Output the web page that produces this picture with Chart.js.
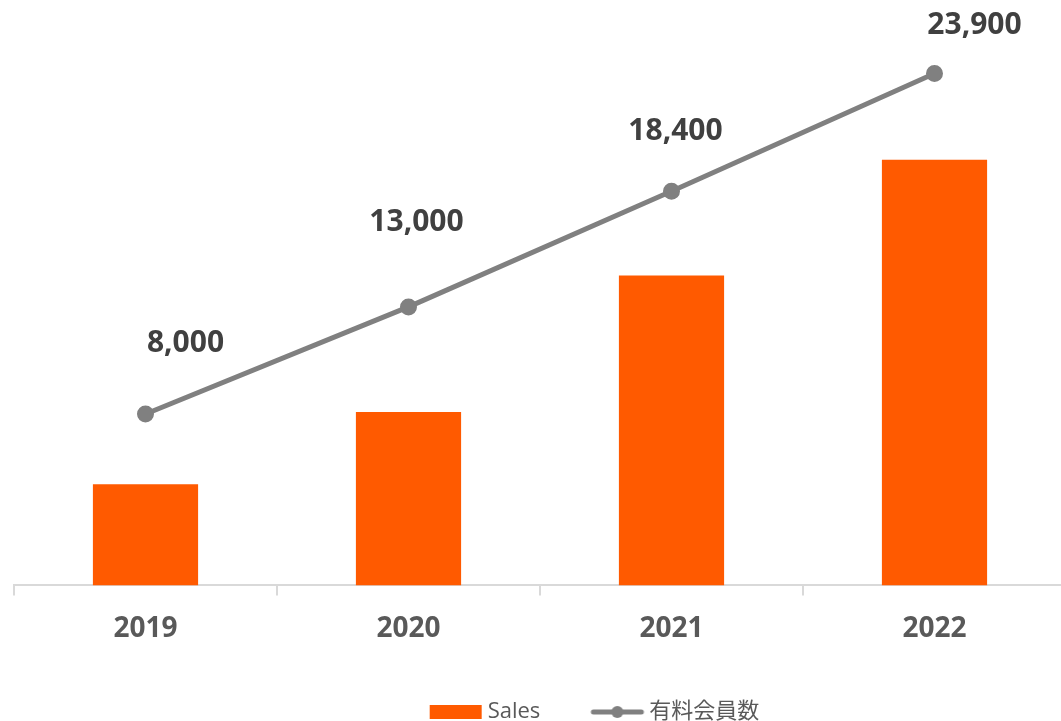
<!DOCTYPE html>
<html>
<head>
<meta charset="utf-8">
<script src="https://cdn.jsdelivr.net/npm/chart.js@4/dist/chart.umd.min.js"></script>
<style>
  html, body { margin: 0; padding: 0; background: #fff; overflow: hidden; }
  #wrap { position: relative; width: 1066px; height: 721px; }
</style>
</head>
<body>
<div id="wrap"><canvas id="salesChart"></canvas></div>
<script>
const FONT = '"Open Sans", "Noto Sans CJK JP", sans-serif';
const BAR_COLOR = "#FF5A00";
const LINE_COLOR = "#808080";
const LABEL_COLOR = "#404040";
const AXIS_COLOR = "#595959";
const GRID_COLOR = "#d9d9d9";

const years = ["2019", "2020", "2021", "2022"];
const sales = [2.45, 4.2, 7.5, 10.3];
const members = [8000, 13000, 18400, 23900];

// hand-placed label offsets (px from each point)
const LABEL_OFFSETS = [[40, -71], [8, -84], [4, -60], [40, -48]];
// legend sits right of centre and tucked close to the bottom edge
const LEGEND_SHIFT_X = 57;
const LEGEND_SHIFT_Y = -18;

// legend swatches drawn as images so the line entry shows line + dot
function makeSwatch(kind) {
  const c = document.createElement("canvas");
  c.width = 56;
  c.height = 16;
  const ctx = c.getContext("2d");
  if (kind === "bar") {
    ctx.fillStyle = BAR_COLOR;
    ctx.fillRect(2, 1, 52, 14);
  } else {
    ctx.strokeStyle = LINE_COLOR;
    ctx.lineWidth = 5;
    ctx.lineCap = "round";
    ctx.beginPath();
    ctx.moveTo(4, 8);
    ctx.lineTo(52, 8);
    ctx.stroke();
    ctx.fillStyle = LINE_COLOR;
    ctx.beginPath();
    ctx.arc(28, 8, 6, 0, Math.PI * 2);
    ctx.fill();
  }
  return c;
}

const pointLabels = {
  id: "pointLabels",
  afterDatasetsDraw(chart) {
    const meta = chart.getDatasetMeta(1);
    const ctx = chart.ctx;
    ctx.save();
    ctx.font = "bold 30px " + FONT;
    ctx.fillStyle = LABEL_COLOR;
    ctx.textAlign = "center";
    ctx.textBaseline = "middle";
    meta.data.forEach((pt, i) => {
      const [dx, dy] = LABEL_OFFSETS[i];
      ctx.fillText(members[i].toLocaleString("en-US"), pt.x + dx, pt.y + dy);
    });
    ctx.restore();
  },
};

const legendNudge = {
  id: "legendNudge",
  afterLayout(chart) {
    const lg = chart.legend;
    lg.left += LEGEND_SHIFT_X;
    lg.right += LEGEND_SHIFT_X;
    lg.top += LEGEND_SHIFT_Y;
    lg.bottom += LEGEND_SHIFT_Y;
  },
};

new Chart(document.getElementById("salesChart"), {
  type: "bar",
  data: {
    labels: years,
    datasets: [
      {
        label: "Sales",
        data: sales,
        backgroundColor: BAR_COLOR,
        barPercentage: 0.4,
        categoryPercentage: 1.0,
        yAxisID: "y",
        order: 2,
      },
      {
        type: "line",
        label: "有料会員数",
        data: members,
        borderColor: LINE_COLOR,
        backgroundColor: LINE_COLOR,
        borderWidth: 5,
        pointRadius: 6,
        pointHoverRadius: 6,
        pointStyle: "circle",
        yAxisID: "y1",
        order: 1,
      },
    ],
  },
  options: {
    responsive: true,
    maintainAspectRatio: false,
    animation: false,
    layout: { autoPadding: false, padding: { top: 7, left: 14, right: 0, bottom: -30 } },
    plugins: {
      legend: {
        position: "bottom",
        labels: {
          color: AXIS_COLOR,
          font: { family: FONT, size: 22 },
          usePointStyle: true,
          pointStyleWidth: 42,
          padding: 56,
          generateLabels(chart) {
            return chart.data.datasets.map((ds, i) => ({
              text: ds.label,
              fontColor: AXIS_COLOR,
              pointStyle: makeSwatch(i === 0 ? "bar" : "line"),
              datasetIndex: i,
              hidden: false,
              lineWidth: 0,
            }));
          },
        },
      },
      tooltip: { enabled: false },
    },
    scales: {
      x: {
        grid: {
          offset: true,
          drawOnChartArea: false,
          tickLength: 10,
          color: GRID_COLOR,
          lineWidth: 2,
        },
        border: { color: GRID_COLOR, width: 2 },
        ticks: {
          color: AXIS_COLOR,
          padding: 17,
          font: { family: FONT, size: 28, weight: "bold" },
        },
      },
      y: { display: false, min: 0, max: 14 },
      y1: { display: false, min: 0, max: 27000 },
    },
  },
  plugins: [pointLabels, legendNudge],
});
</script>
</body>
</html>
